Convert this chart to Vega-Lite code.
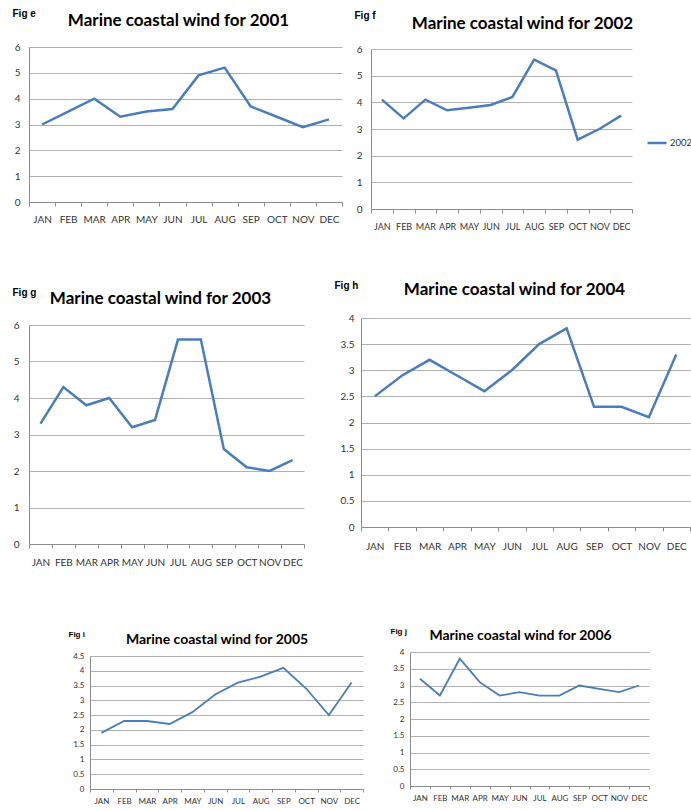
{
  "$schema": "https://vega.github.io/schema/vega-lite/v6.json",
  "padding": {"left": 12, "top": 8, "right": 0, "bottom": 0},
  "background": "white",
  "config": {
    "view": {"stroke": null},
    "font": "Lato",
    "axis": {"labelFont": "Lato", "labelColor": "#333333", "domainColor": "#8c8c8c", "tickColor": "#8c8c8c", "gridColor": "#b0b0b0", "titleFont": "Liberation Sans", "titleFontWeight": "bold", "titleColor": "#000000", "titleAngle": 0, "titleAlign": "left", "titleBaseline": "top", "titlePadding": 0, "maxExtent": 200},
    "axisX": {"labelAngle": 0, "tickBand": "extent", "ticks": true, "grid": false, "labelOverlap": false, "labelFlush": false},
    "axisY": {"grid": true, "ticks": false, "domain": true, "format": "~g"},
    "title": {"font": "Lato", "fontWeight": "bold", "color": "#000000", "anchor": "middle", "frame": "group", "baseline": "alphabetic"},
    "line": {"color": "#4a7ebb"}
  },
  "datasets": {
    "wind": [
      {"year": 2001, "month": "JAN", "wind": 3.0}, {"year": 2001, "month": "FEB", "wind": 3.5}, {"year": 2001, "month": "MAR", "wind": 4.0}, {"year": 2001, "month": "APR", "wind": 3.3}, {"year": 2001, "month": "MAY", "wind": 3.5}, {"year": 2001, "month": "JUN", "wind": 3.6}, {"year": 2001, "month": "JUL", "wind": 4.9}, {"year": 2001, "month": "AUG", "wind": 5.2}, {"year": 2001, "month": "SEP", "wind": 3.7}, {"year": 2001, "month": "OCT", "wind": 3.3}, {"year": 2001, "month": "NOV", "wind": 2.9}, {"year": 2001, "month": "DEC", "wind": 3.2},
      {"year": 2002, "month": "JAN", "wind": 4.1}, {"year": 2002, "month": "FEB", "wind": 3.4}, {"year": 2002, "month": "MAR", "wind": 4.1}, {"year": 2002, "month": "APR", "wind": 3.7}, {"year": 2002, "month": "MAY", "wind": 3.8}, {"year": 2002, "month": "JUN", "wind": 3.9}, {"year": 2002, "month": "JUL", "wind": 4.2}, {"year": 2002, "month": "AUG", "wind": 5.6}, {"year": 2002, "month": "SEP", "wind": 5.2}, {"year": 2002, "month": "OCT", "wind": 2.6}, {"year": 2002, "month": "NOV", "wind": 3.0}, {"year": 2002, "month": "DEC", "wind": 3.5},
      {"year": 2003, "month": "JAN", "wind": 3.3}, {"year": 2003, "month": "FEB", "wind": 4.3}, {"year": 2003, "month": "MAR", "wind": 3.8}, {"year": 2003, "month": "APR", "wind": 4.0}, {"year": 2003, "month": "MAY", "wind": 3.2}, {"year": 2003, "month": "JUN", "wind": 3.4}, {"year": 2003, "month": "JUL", "wind": 5.6}, {"year": 2003, "month": "AUG", "wind": 5.6}, {"year": 2003, "month": "SEP", "wind": 2.6}, {"year": 2003, "month": "OCT", "wind": 2.1}, {"year": 2003, "month": "NOV", "wind": 2.0}, {"year": 2003, "month": "DEC", "wind": 2.3},
      {"year": 2004, "month": "JAN", "wind": 2.5}, {"year": 2004, "month": "FEB", "wind": 2.9}, {"year": 2004, "month": "MAR", "wind": 3.2}, {"year": 2004, "month": "APR", "wind": 2.9}, {"year": 2004, "month": "MAY", "wind": 2.6}, {"year": 2004, "month": "JUN", "wind": 3.0}, {"year": 2004, "month": "JUL", "wind": 3.5}, {"year": 2004, "month": "AUG", "wind": 3.8}, {"year": 2004, "month": "SEP", "wind": 2.3}, {"year": 2004, "month": "OCT", "wind": 2.3}, {"year": 2004, "month": "NOV", "wind": 2.1}, {"year": 2004, "month": "DEC", "wind": 3.3},
      {"year": 2005, "month": "JAN", "wind": 1.9}, {"year": 2005, "month": "FEB", "wind": 2.3}, {"year": 2005, "month": "MAR", "wind": 2.3}, {"year": 2005, "month": "APR", "wind": 2.2}, {"year": 2005, "month": "MAY", "wind": 2.6}, {"year": 2005, "month": "JUN", "wind": 3.2}, {"year": 2005, "month": "JUL", "wind": 3.6}, {"year": 2005, "month": "AUG", "wind": 3.8}, {"year": 2005, "month": "SEP", "wind": 4.1}, {"year": 2005, "month": "OCT", "wind": 3.4}, {"year": 2005, "month": "NOV", "wind": 2.5}, {"year": 2005, "month": "DEC", "wind": 3.6},
      {"year": 2006, "month": "JAN", "wind": 3.2}, {"year": 2006, "month": "FEB", "wind": 2.7}, {"year": 2006, "month": "MAR", "wind": 3.8}, {"year": 2006, "month": "APR", "wind": 3.1}, {"year": 2006, "month": "MAY", "wind": 2.7}, {"year": 2006, "month": "JUN", "wind": 2.8}, {"year": 2006, "month": "JUL", "wind": 2.7}, {"year": 2006, "month": "AUG", "wind": 2.7}, {"year": 2006, "month": "SEP", "wind": 3.0}, {"year": 2006, "month": "OCT", "wind": 2.9}, {"year": 2006, "month": "NOV", "wind": 2.8}, {"year": 2006, "month": "DEC", "wind": 3.0}
    ]
  },
  "spacing": 0,
  "vconcat": [
    {
      "spacing": 0,
      "hconcat": [
        {
          "width": 313, "height": 155,
          "title": {"text": "Marine coastal wind for 2001", "fontSize": 17, "offset": -22, "dx": -7},
          "data": {"name": "wind"},
          "transform": [{"filter": "datum.year == 2001"}],
          "mark": {"type": "line", "strokeWidth": 2.5},
          "encoding": {
            "x": {"field": "month", "type": "ordinal", "sort": ["JAN","FEB","MAR","APR","MAY","JUN","JUL","AUG","SEP","OCT","NOV","DEC"], "scale": {"type": "band", "paddingInner": 0, "paddingOuter": 0},
                  "axis": {"title": null, "labelFontSize": 10, "tickSize": 4, "labelPadding": 8}},
            "y": {"field": "wind", "type": "quantitative", "scale": {"domain": [0, 6]},
                  "axis": {"values": [0,1,2,3,4,5,6], "labelFontSize": 10, "labelPadding": 9, "title": "Fig e", "titleX": -17, "titleY": -39, "titleFontSize": 10}}
          }
        },
        {
          "width": 261, "height": 162,
          "title": {"text": "Marine coastal wind for 2002", "fontSize": 17, "offset": -23, "dx": 21},
          "data": {"name": "wind"},
          "transform": [{"filter": "datum.year == 2002"}],
          "mark": {"type": "line", "strokeWidth": 2.5},
          "encoding": {
            "x": {"field": "month", "type": "ordinal", "sort": ["JAN","FEB","MAR","APR","MAY","JUN","JUL","AUG","SEP","OCT","NOV","DEC"], "scale": {"type": "band", "paddingInner": 0, "paddingOuter": 0},
                  "axis": {"title": null, "labelFontSize": 9, "tickSize": 4, "labelPadding": 9, "minExtent": 71}},
            "y": {"field": "wind", "type": "quantitative", "scale": {"domain": [0, 6], "range": [162, 2]},
                  "axis": {"values": [0,1,2,3,4,5,6], "labelFontSize": 10, "labelPadding": 9, "title": "Fig f", "titleX": -17, "titleY": -37, "titleFontSize": 10, "minExtent": 28}},
            "color": {"field": "year", "type": "nominal", "scale": {"range": ["#4a7ebb"]},
                      "legend": {"title": null, "orient": "none", "legendX": 617, "legendY": 85, "symbolType": "stroke", "symbolStrokeWidth": 2.5, "symbolSize": 361, "labelFontSize": 9.5, "labelFont": "Lato", "labelColor": "#333333", "labelOffset": 2}}
          }
        }
      ]
    },
    {
      "spacing": 0,
      "hconcat": [
        {
          "width": 275, "height": 226,
          "title": {"text": "Marine coastal wind for 2003", "fontSize": 17, "offset": -21, "dx": -6},
          "data": {"name": "wind"},
          "transform": [{"filter": "datum.year == 2003"}],
          "mark": {"type": "line", "strokeWidth": 2.5},
          "encoding": {
            "x": {"field": "month", "type": "ordinal", "sort": ["JAN","FEB","MAR","APR","MAY","JUN","JUL","AUG","SEP","OCT","NOV","DEC"], "scale": {"type": "band", "paddingInner": 0, "paddingOuter": 0},
                  "axis": {"title": null, "labelFontSize": 10, "tickSize": 4, "labelPadding": 9}},
            "y": {"field": "wind", "type": "quantitative", "scale": {"domain": [0, 6], "range": [226, 7]},
                  "axis": {"values": [0,1,2,3,4,5,6], "labelFontSize": 10, "labelPadding": 10, "title": "Fig g", "titleX": -17, "titleY": -31, "titleFontSize": 10}}
          }
        },
        {
          "width": 329, "height": 209,
          "title": {"text": "Marine coastal wind for 2004", "fontSize": 17, "offset": -19, "dx": -11},
          "data": {"name": "wind"},
          "transform": [{"filter": "datum.year == 2004"}],
          "mark": {"type": "line", "strokeWidth": 2.5},
          "encoding": {
            "x": {"field": "month", "type": "ordinal", "sort": ["JAN","FEB","MAR","APR","MAY","JUN","JUL","AUG","SEP","OCT","NOV","DEC"], "scale": {"type": "band", "paddingInner": 0, "paddingOuter": 0},
                  "axis": {"title": null, "labelFontSize": 10, "tickSize": 4, "labelPadding": 10, "minExtent": 100}},
            "y": {"field": "wind", "type": "quantitative", "scale": {"domain": [0, 4]},
                  "axis": {"values": [0,0.5,1,1.5,2,2.5,3,3.5,4], "labelFontSize": 10, "labelPadding": 7, "title": "Fig h", "titleX": -27, "titleY": -38, "titleFontSize": 10, "minExtent": 56}}
          }
        }
      ]
    },
    {
      "spacing": 0,
      "hconcat": [
        {
          "width": 334, "height": 137,
          "title": {"text": "Marine coastal wind for 2005", "fontSize": 14, "offset": -17, "dx": 21},
          "data": {"name": "wind"},
          "transform": [{"filter": "datum.year == 2005"}],
          "mark": {"type": "line", "strokeWidth": 1.8},
          "encoding": {
            "x": {"field": "month", "type": "ordinal", "sort": ["JAN","FEB","MAR","APR","MAY","JUN","JUL","AUG","SEP","OCT","NOV","DEC"], "scale": {"type": "band", "paddingInner": 0, "paddingOuter": 0, "range": [61, 334]},
                  "axis": {"title": null, "labelFontSize": 8, "tickSize": 3, "labelPadding": 5}},
            "y": {"field": "wind", "type": "quantitative", "scale": {"domain": [0, 4.5], "range": [137, 4]},
                  "axis": {"values": [0,0.5,1,1.5,2,2.5,3,3.5,4,4.5], "offset": -61, "labelFontSize": 8, "labelPadding": 6, "title": "Fig i", "titleX": -22, "titleY": -22, "titleFontSize": 8}}
          }
        },
        {
          "width": 239, "height": 134,
          "title": {"text": "Marine coastal wind for 2006", "fontSize": 14, "offset": -16, "dx": -9},
          "data": {"name": "wind"},
          "transform": [{"filter": "datum.year == 2006"}],
          "mark": {"type": "line", "strokeWidth": 1.8},
          "encoding": {
            "x": {"field": "month", "type": "ordinal", "sort": ["JAN","FEB","MAR","APR","MAY","JUN","JUL","AUG","SEP","OCT","NOV","DEC"], "scale": {"type": "band", "paddingInner": 0, "paddingOuter": 0},
                  "axis": {"title": null, "labelFontSize": 8, "tickSize": 3, "labelPadding": 5}},
            "y": {"field": "wind", "type": "quantitative", "scale": {"domain": [0, 4]},
                  "axis": {"values": [0,0.5,1,1.5,2,2.5,3,3.5,4], "labelFontSize": 8, "labelPadding": 6, "title": "Fig j", "titleX": -20, "titleY": -25, "titleFontSize": 8, "minExtent": 46}}
          }
        }
      ]
    }
  ]
}
